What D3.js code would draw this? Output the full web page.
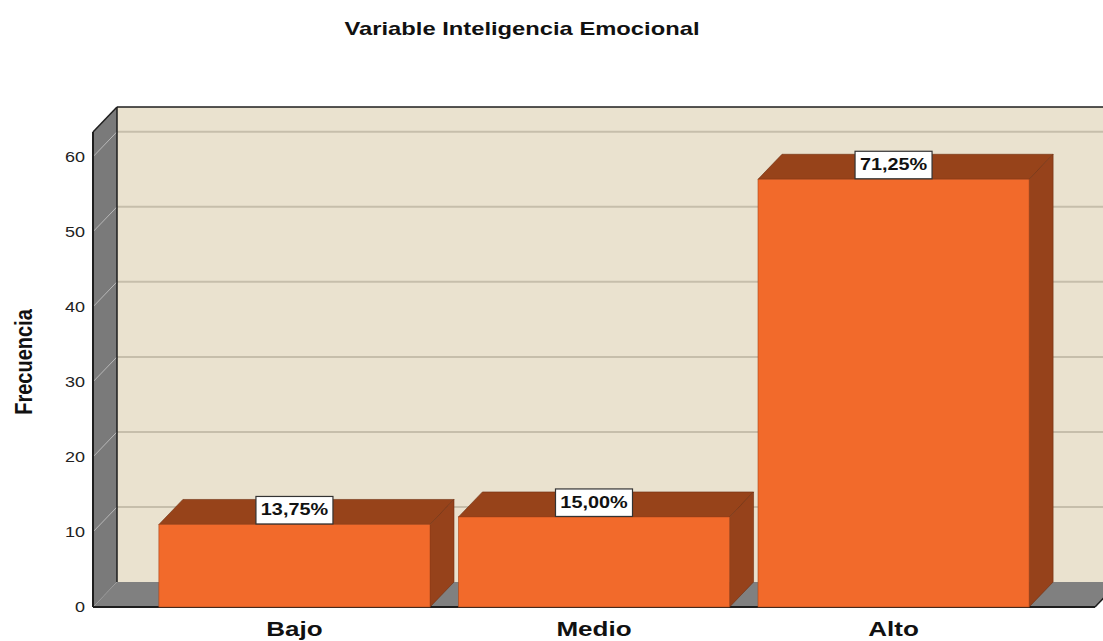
<!DOCTYPE html>
<html>
<head>
<meta charset="utf-8">
<script src="https://cdn.jsdelivr.net/npm/d3@7"></script>
<style>
  html, body { margin: 0; padding: 0; background: #ffffff; }
  svg { display: block; }
  text { font-family: Arial, "Liberation Sans", sans-serif; fill: #111; }
</style>
</head>
<body>
<svg id="chart" width="1103" height="641"></svg>
<script>
// ---- data ----
const categories = ["Bajo", "Medio", "Alto"];
const frequencies = [11, 12, 57];
const percentLabels = ["13,75%", "15,00%", "71,25%"];
const yTicks = [0, 10, 20, 30, 40, 50, 60];
const titleText = "Variable Inteligencia Emocional";
const yTitle = "Frecuencia";
const yMax = 63.3;

// ---- layout ----
const W = 1103, H = 641;
const plotLeft = 93, plotRight = 1095, plotBottom = 607, plotTop = 132;
const DX = 24, DY = -25;          // 3D depth offset
const S = 1.24;                   // horizontal text stretch

const colFront = "#F26A2B", colTop = "#97431A", colSide = "#96421B";
const colWall = "#EAE2CF", colGrid = "#C6BEAB", colGrey = "#7A7A7A", colFloor = "#808080";
const colEdge = "#1e1e1e";

const svg = d3.select("#chart");

const x = d3.scaleBand().domain(categories).range([plotLeft, plotRight])
  .paddingInner(0.095).paddingOuter(0.22);
const y = d3.scaleLinear().domain([0, yMax]).range([plotBottom, plotTop]);

const y0 = y(0), yT = y(yMax);

// back wall
svg.append("rect")
  .attr("x", plotLeft + DX).attr("y", yT + DY)
  .attr("width", W - (plotLeft + DX) + 20).attr("height", y0 - yT)
  .attr("fill", colWall);

// grid lines on back wall
svg.append("g").selectAll("line").data(yTicks.filter(v => v > 0)).join("line")
  .attr("x1", plotLeft + DX).attr("x2", plotRight + DX + 30)
  .attr("y1", d => y(d) + DY).attr("y2", d => y(d) + DY)
  .attr("stroke", colGrid).attr("stroke-width", 2);

// left wall
svg.append("polygon")
  .attr("points", [[plotLeft, yT], [plotLeft + DX, yT + DY], [plotLeft + DX, y0 + DY], [plotLeft, y0]].join(" "))
  .attr("fill", colGrey);
svg.append("g").selectAll("line").data(yTicks.filter(v => v > 0)).join("line")
  .attr("x1", plotLeft).attr("x2", plotLeft + DX)
  .attr("y1", d => y(d)).attr("y2", d => y(d) + DY)
  .attr("stroke", "#c8c8c8").attr("stroke-width", 1).attr("opacity", 0.8);

// floor
svg.append("polygon")
  .attr("points", [[plotLeft, y0], [plotLeft + DX, y0 + DY], [plotRight + DX, y0 + DY], [plotRight, y0]].join(" "))
  .attr("fill", colFloor);

// edges
svg.append("line").attr("x1", plotLeft + DX).attr("x2", plotLeft + DX).attr("y1", yT + DY).attr("y2", y0 + DY)
  .attr("stroke", colEdge).attr("stroke-width", 1.5);
svg.append("line").attr("x1", plotLeft + DX).attr("x2", W + 5).attr("y1", yT + DY).attr("y2", yT + DY)
  .attr("stroke", colEdge).attr("stroke-width", 1.5);
svg.append("line").attr("x1", plotLeft).attr("x2", plotLeft + DX).attr("y1", yT).attr("y2", yT + DY)
  .attr("stroke", colEdge).attr("stroke-width", 1.5);
svg.append("line").attr("x1", plotLeft).attr("x2", plotLeft).attr("y1", yT).attr("y2", y0)
  .attr("stroke", colEdge).attr("stroke-width", 2);
svg.append("line").attr("x1", plotLeft).attr("x2", plotRight).attr("y1", y0).attr("y2", y0)
  .attr("stroke", colEdge).attr("stroke-width", 2);
svg.append("line").attr("x1", plotRight).attr("x2", plotRight + DX).attr("y1", y0).attr("y2", y0 + DY)
  .attr("stroke", colEdge).attr("stroke-width", 1.5);

// bars
const bw = x.bandwidth();
const bars = svg.append("g").selectAll("g").data(categories).join("g");
bars.append("polygon") // top
  .attr("points", (c, i) => {
    const x0 = x(c), x1 = x0 + bw, yt = y(frequencies[i]);
    return [[x0, yt], [x0 + DX, yt + DY], [x1 + DX, yt + DY], [x1, yt]].join(" ");
  })
  .attr("fill", colTop).attr("stroke", "#6e2f10").attr("stroke-width", 0.6);
bars.append("polygon") // side
  .attr("points", (c, i) => {
    const x1 = x(c) + bw, yt = y(frequencies[i]);
    return [[x1, yt], [x1 + DX, yt + DY], [x1 + DX, y0 + DY], [x1, y0]].join(" ");
  })
  .attr("fill", colSide).attr("stroke", "#6e2f10").attr("stroke-width", 0.6);
bars.append("rect") // front
  .attr("x", c => x(c)).attr("width", bw)
  .attr("y", (c, i) => y(frequencies[i])).attr("height", (c, i) => y0 - y(frequencies[i]))
  .attr("fill", colFront).attr("stroke", "#a8461a").attr("stroke-width", 0.6);

// value labels
const lab = svg.append("g").selectAll("g").data(categories).join("g")
  .attr("transform", (c, i) => `translate(${x(c) + bw / 2},${y(frequencies[i])})`);
lab.append("rect")
  .attr("x", -38.5).attr("y", -28).attr("width", 77).attr("height", 27.5)
  .attr("fill", "#ffffff").attr("stroke", "#333").attr("stroke-width", 1.2);
lab.append("text")
  .attr("transform", `translate(0,-9) scale(${S},1)`)
  .attr("text-anchor", "middle")
  .style("font-size", "16px").style("font-weight", "bold")
  .text((c, i) => percentLabels[i]);

// y tick labels
svg.append("g").selectAll("text").data(yTicks).join("text")
  .attr("transform", d => `translate(${plotLeft - 8},${y(d) + 5}) scale(1.2,1)`)
  .attr("text-anchor", "end")
  .style("font-size", "15px")
  .style("fill", "#222")
  .text(d => d);

// category labels
svg.append("g").selectAll("text").data(categories).join("text")
  .attr("transform", c => `translate(${x(c) + bw / 2},636) scale(${S},1)`)
  .attr("text-anchor", "middle")
  .style("font-size", "21px").style("font-weight", "bold")
  .text(c => c);

// title
svg.append("text")
  .attr("transform", `translate(522,35) scale(1.25,1)`)
  .attr("text-anchor", "middle")
  .style("font-size", "19px").style("font-weight", "bold")
  .text(titleText);

// y axis title
svg.append("text")
  .attr("transform", `translate(32,362) rotate(-90) scale(1,1.2)`)
  .attr("text-anchor", "middle")
  .style("font-size", "20px").style("font-weight", "bold")
  .text(yTitle);
</script>
</body>
</html>
